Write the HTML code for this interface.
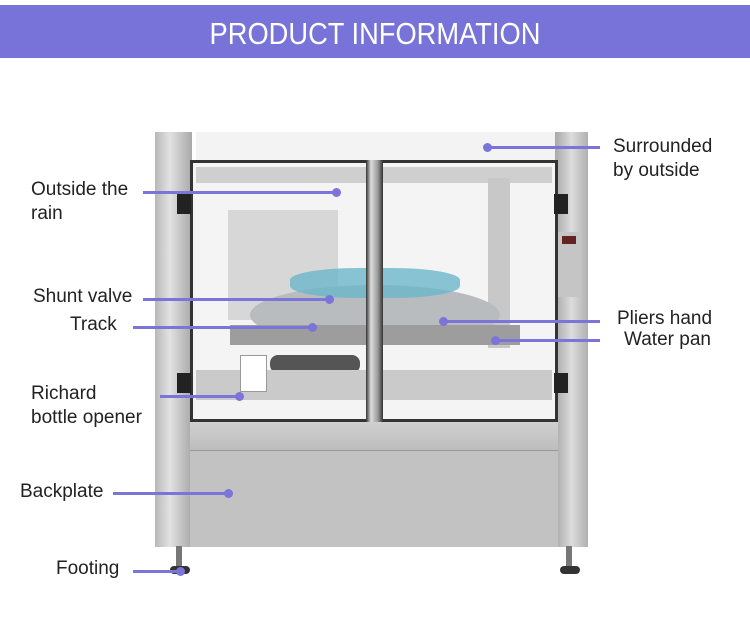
<!DOCTYPE html>
<html><head><meta charset="utf-8"><style>
body{margin:0;width:750px;height:625px;background:#fff;position:relative;overflow:hidden;font-family:"Liberation Sans",sans-serif;}
.hdr{position:absolute;left:0;top:5px;width:750px;height:53px;background:#7873d8;}
.hdr span{position:absolute;left:0;width:750px;top:11px;text-align:center;color:#fff;font-size:31px;transform:scaleX(0.88);}
.a{position:absolute}
.lbl{position:absolute;font-size:19px;color:#222;line-height:24px}
.ln{position:absolute;height:3px;background:#7b74d9}
.dot{position:absolute;width:9px;height:9px;border-radius:50%;background:#7b74d9}
</style></head><body>
<div class="hdr"><span>PRODUCT INFORMATION</span></div>

<div class="a" style="left:196px;top:132px;width:362px;height:30px;background:#f3f3f3"></div>
<div class="a" style="left:155px;top:132px;width:37px;height:415px;background:linear-gradient(90deg,#b8b8b8,#e2e2e2 40%,#a8a8a8)"></div>
<div class="a" style="left:555px;top:132px;width:33px;height:415px;background:linear-gradient(90deg,#a8a8a8,#dcdcdc 50%,#b0b0b0)"></div>
<div class="a" style="left:190px;top:160px;width:368px;height:262px;background:#f4f4f4;border:3px solid #333;box-sizing:border-box"></div>
<div class="a" style="left:196px;top:167px;width:356px;height:16px;background:#cfcfcf"></div>
<div class="a" style="left:228px;top:210px;width:110px;height:110px;background:#d7d7d7"></div>
<div class="a" style="left:488px;top:178px;width:22px;height:170px;background:#c8c8c8"></div>
<div class="a" style="left:250px;top:285px;width:250px;height:60px;border-radius:50%;background:#b9bcbf"></div>
<div class="a" style="left:290px;top:268px;width:170px;height:30px;border-radius:40%;background:#6cb7c9;opacity:.8"></div>
<div class="a" style="left:230px;top:325px;width:290px;height:20px;background:#9d9d9d"></div>
<div class="a" style="left:270px;top:355px;width:90px;height:18px;background:#555;border-radius:8px"></div>
<div class="a" style="left:196px;top:370px;width:356px;height:30px;background:#cacaca"></div>
<div class="a" style="left:240px;top:355px;width:25px;height:35px;background:#fff;border:1px solid #999"></div>
<div class="a" style="left:366px;top:160px;width:17px;height:265px;background:linear-gradient(90deg,#333,#ddd 30%,#999 70%,#333)"></div>
<div class="a" style="left:558px;top:232px;width:22px;height:65px;background:#c5c5c5"></div>
<div class="a" style="left:562px;top:236px;width:14px;height:8px;background:#622"></div>
<div class="a" style="left:177px;top:194px;width:14px;height:20px;background:#222"></div>
<div class="a" style="left:554px;top:194px;width:14px;height:20px;background:#222"></div>
<div class="a" style="left:177px;top:373px;width:14px;height:20px;background:#222"></div>
<div class="a" style="left:554px;top:373px;width:14px;height:20px;background:#222"></div>
<div class="a" style="left:190px;top:422px;width:368px;height:28px;background:linear-gradient(#d0d0d0,#bdbdbd)"></div>
<div class="a" style="left:190px;top:450px;width:368px;height:96px;background:#c2c2c2;border-top:1px solid #999"></div>
<div class="a" style="left:176px;top:546px;width:6px;height:22px;background:#777"></div>
<div class="a" style="left:170px;top:566px;width:20px;height:8px;background:#333;border-radius:4px"></div>
<div class="a" style="left:566px;top:546px;width:6px;height:22px;background:#777"></div>
<div class="a" style="left:560px;top:566px;width:20px;height:8px;background:#333;border-radius:4px"></div>

<div class="lbl" style="left:613px;top:135px">Surrounded<br>by outside</div>
<div class="ln" style="left:487px;top:146px;width:113px"></div><div class="dot" style="left:483px;top:143px"></div>

<div class="lbl" style="left:31px;top:178px">Outside the<br>rain</div>
<div class="ln" style="left:143px;top:191px;width:193px"></div><div class="dot" style="left:332px;top:188px"></div>

<div class="lbl" style="left:33px;top:285px">Shunt valve</div>
<div class="ln" style="left:143px;top:298px;width:186px"></div><div class="dot" style="left:325px;top:295px"></div>

<div class="lbl" style="left:70px;top:313px">Track</div>
<div class="ln" style="left:133px;top:326px;width:180px"></div><div class="dot" style="left:308px;top:323px"></div>

<div class="lbl" style="left:617px;top:307px">Pliers hand</div>
<div class="ln" style="left:443px;top:320px;width:157px"></div><div class="dot" style="left:439px;top:317px"></div>

<div class="lbl" style="left:624px;top:328px">Water pan</div>
<div class="ln" style="left:495px;top:339px;width:105px"></div><div class="dot" style="left:491px;top:336px"></div>

<div class="lbl" style="left:31px;top:382px">Richard<br>bottle opener</div>
<div class="ln" style="left:160px;top:395px;width:80px"></div><div class="dot" style="left:235px;top:392px"></div>

<div class="lbl" style="left:20px;top:480px">Backplate</div>
<div class="ln" style="left:113px;top:492px;width:116px"></div><div class="dot" style="left:224px;top:489px"></div>

<div class="lbl" style="left:56px;top:557px">Footing</div>
<div class="ln" style="left:133px;top:570px;width:48px"></div><div class="dot" style="left:176px;top:567px"></div>
</body></html>
